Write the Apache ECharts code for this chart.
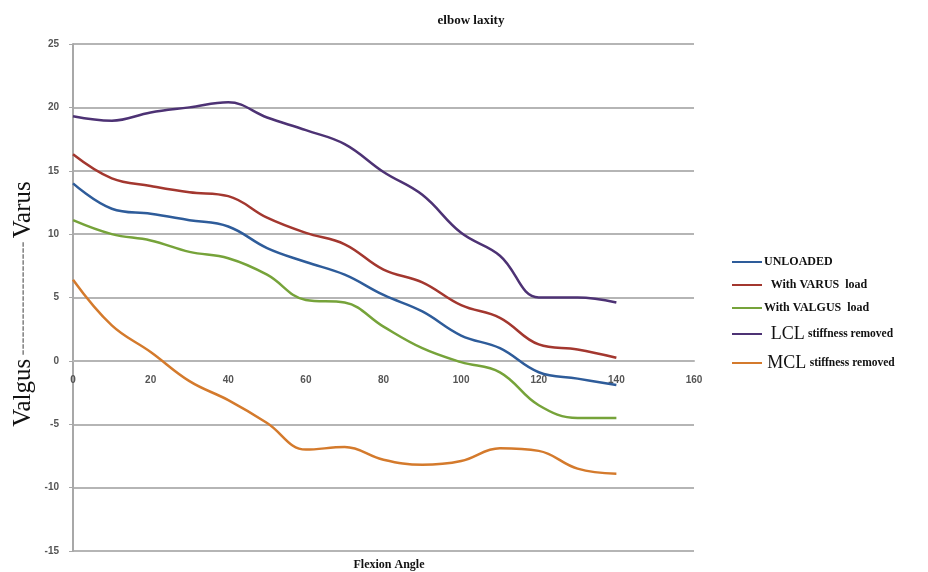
<!DOCTYPE html>
<html>
<head>
<meta charset="utf-8">
<script src="https://cdn.jsdelivr.net/npm/echarts@6/dist/echarts.min.js"></script>
<style>
  html, body { margin: 0; padding: 0; background: #fff; }
  #chart { width: 928px; height: 572px; }
</style>
</head>
<body>
<div id="chart"></div>
<script>
// Flexion angle (degrees) at which laxity was measured
const angles = [0, 10, 20, 30, 40, 50, 60, 70, 80, 90, 100, 110, 120, 130, 140];

// Varus (+) / valgus (-) laxity in degrees for each condition
const unloaded = [14.0, 12.0, 11.6, 11.1, 10.6, 8.9, 7.8, 6.8, 5.2, 3.9, 2.0, 1.0, -0.9, -1.4, -1.9];
const varusLoad = [16.3, 14.4, 13.8, 13.3, 13.0, 11.3, 10.1, 9.2, 7.2, 6.2, 4.4, 3.4, 1.3, 0.9, 0.25];
const valgusLoad = [11.1, 10.0, 9.5, 8.6, 8.1, 6.8, 4.8, 4.6, 2.7, 1.0, -0.1, -0.9, -3.5, -4.5, -4.5];
const lclRemoved = [19.3, 18.95, 19.6, 20.0, 20.4, 19.2, 18.2, 17.1, 14.9, 13.1, 10.1, 8.3, 5.0, 5.0, 4.6];
const mclRemoved = [6.4, 2.8, 0.7, -1.6, -3.1, -4.9, -7.0, -6.8, -7.8, -8.2, -7.9, -6.9, -7.1, -8.5, -8.9];

const seriesNames = ['UNLOADED', 'With VARUS load', 'With VALGUS load', 'LCL stiffness removed', 'MCL stiffness removed'];
const seriesValues = [unloaded, varusLoad, valgusLoad, lclRemoved, mclRemoved];
const seriesColors = ['#2e5c9a', '#a3372f', '#76a33a', '#4d3274', '#d47a2c'];

// Axis ranges
const xTicks = { min: 0, max: 160, interval: 20 };
const yTicks = { min: -15, max: 25, interval: 5 };

const pair = vals => angles.map((a, i) => [a, vals[i]]);

// Plot box
const gridBox = { left: 73, right: 234, top: 44, bottom: 21 };
const chartH = 572;
const plotH = chartH - gridBox.top - gridBox.bottom;
// Lift the angle axis up to the zero line of the laxity axis
const zeroLift = plotH * (0 - yTicks.min) / (yTicks.max - yTicks.min);

const chart = echarts.init(document.getElementById('chart'), null, { renderer: 'canvas' });

const serif = '"Liberation Serif", "DejaVu Serif", serif';

chart.setOption({
  backgroundColor: '#ffffff',
  animation: false,
  title: [
    {
      text: 'elbow laxity',
      left: 466, top: 9, textAlign: 'center',
      textStyle: { fontFamily: serif, fontWeight: 'bold', fontSize: 13, color: '#111' }
    },
    {
      text: 'Flexion Angle',
      left: 384, top: 554, textAlign: 'center',
      textStyle: { fontFamily: serif, fontWeight: 'bold', fontSize: 12, color: '#111' }
    }
  ],
  grid: Object.assign({ containLabel: false }, gridBox),
  legend: {
    orient: 'vertical',
    left: 727,
    top: 251,
    itemWidth: 30,
    itemHeight: 12,
    itemGap: 11,
    icon: 'path://M0,5 L30,5 L30,7 L0,7 Z',
    data: seriesNames,
    formatter: function (name) {
      if (name === 'LCL stiffness removed') return '  {big|LCL} {sm|stiffness removed}';
      if (name === 'MCL stiffness removed') return ' {big|MCL} {sm|stiffness removed}';
      if (name === 'With VARUS load') return '  {n|With VARUS  load}';
      if (name === 'With VALGUS load') return '{n|With VALGUS  load}';
      return '{n|' + name + '}';
    },
    textStyle: {
      padding: [0, 0, 0, -3],
      rich: {
        n: { fontFamily: serif, fontWeight: 'bold', fontSize: 12, color: '#111', lineHeight: 14 },
        sm: { fontFamily: serif, fontWeight: 'bold', fontSize: 11.5, color: '#111', lineHeight: 14 },
        big: { fontFamily: serif, fontSize: 18, color: '#111', lineHeight: 14 }
      }
    }
  },
  xAxis: {
    type: 'value',
    min: xTicks.min, max: xTicks.max, interval: xTicks.interval,
    position: 'bottom',
    offset: -zeroLift,
    axisLine: { show: true, onZero: false, lineStyle: { color: '#b5b5b5', width: 2 } },
    axisTick: { show: false },
    splitLine: { show: false },
    axisLabel: {
      margin: 14,
      fontFamily: '"Liberation Sans", Arial, sans-serif',
      fontWeight: 'bold', fontSize: 10, color: '#555'
    }
  },
  yAxis: {
    type: 'value',
    min: yTicks.min, max: yTicks.max, interval: yTicks.interval,
    axisLine: { show: true, onZero: false, lineStyle: { color: '#a8a8a8', width: 2 } },
    axisTick: { show: true, length: 4, lineStyle: { color: '#a8a8a8' } },
    splitLine: { show: true, lineStyle: { color: '#b5b5b5', width: 2 } },
    axisLabel: {
      margin: 14,
      fontFamily: '"Liberation Sans", Arial, sans-serif',
      fontWeight: 'bold', fontSize: 10, color: '#555'
    }
  },
  graphic: [
    {
      type: 'text',
      x: 23, y: 304,
      rotation: Math.PI / 2,
      style: {
        text: '{v|Valgus} {d|-------------------} {v|Varus}',
        align: 'center',
        verticalAlign: 'middle',
        rich: {
          v: { fontFamily: serif, fontSize: 25, fill: '#111' },
          d: { fontFamily: serif, fontWeight: 'bold', fontSize: 18, fill: '#8a8a8a' }
        }
      }
    }
  ],
  series: seriesNames.map((name, i) => ({
    name: name,
    type: 'line',
    data: pair(seriesValues[i]),
    smooth: 0.4,
    showSymbol: false,
    symbol: 'none',
    lineStyle: { color: seriesColors[i], width: 2.5 },
    itemStyle: { color: seriesColors[i] },
    z: 3
  }))
});
</script>
</body>
</html>
